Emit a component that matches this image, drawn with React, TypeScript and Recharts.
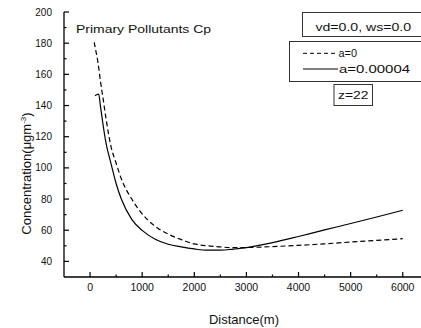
import React from 'react';
import { LineChart, Line, XAxis, YAxis } from 'recharts';

// a=0 (dashed)
const distA = [80, 100, 150, 200, 250, 300, 400, 500, 600, 800, 1000, 1250, 1500, 1750, 2000, 2250, 2500, 2750, 3000, 3500, 4000, 4500, 5000, 5500, 6000];
const concA = [180.6, 177, 168, 155.5, 144.5, 133, 114, 103, 93, 80, 70.5, 62.5, 57.5, 54, 51.2, 50, 49.3, 48.8, 48.9, 49.5, 50.3, 51.3, 52.4, 53.5, 54.6];

// a=0.00004 (solid)
const distB = [95, 165, 200, 250, 300, 400, 500, 600, 800, 1000, 1250, 1500, 1750, 2000, 2250, 2500, 2750, 3000, 3500, 4000, 4500, 5000, 5500, 6000];
const concB = [146.3, 147.3, 139.5, 127.5, 117, 103, 90, 80, 67, 59.9, 54.2, 51, 49.3, 48, 47.2, 47.2, 47.9, 48.8, 52, 56, 60.2, 64.3, 68.5, 72.8];

const xTicks = [0, 500, 1000, 1500, 2000, 2500, 3000, 3500, 4000, 4500, 5000, 5500, 6000];
const yTicks = [40, 50, 60, 70, 80, 90, 100, 110, 120, 130, 140, 150, 160, 170, 180, 190, 200];

const seriesA = distA.map((x, i) => ({ x, y: concA[i] }));
const seriesB = distB.map((x, i) => ({ x, y: concB[i] }));

const FONT = "Arial, 'Liberation Sans', sans-serif";

const BottomTick = (props: any) => {
  const { x, y, payload } = props;
  const v = payload.value;
  const major = v % 1000 === 0;
  return (
    <g>
      <line x1={x} x2={x} y1={y} y2={y - (major ? 5 : 2.5)} stroke="#000" strokeWidth={1.2} />
      {major && (
        <text x={x} y={y + 13.5} textAnchor="middle" fontSize={10.5} fontFamily={FONT} fill="#111">
          {v}
        </text>
      )}
    </g>
  );
};

const TopTick = (props: any) => {
  const { x, y } = props;
  return <line x1={x} x2={x} y1={y} y2={y + 2} stroke="#000" strokeWidth={1} />;
};

const LeftTick = (props: any) => {
  const { x, y, payload } = props;
  const v = payload.value;
  const major = v % 20 === 0;
  return (
    <g>
      <line x1={x} x2={x + (major ? 5 : 2.5)} y1={y} y2={y} stroke="#000" strokeWidth={1.2} />
      {major && (
        <text x={x - 12} y={y} dy="0.35em" textAnchor="end" fontSize={10} fontFamily={FONT} fill="#111">
          {v}
        </text>
      )}
    </g>
  );
};

export default function App() {
  return (
    <div style={{ position: 'absolute', left: 0, top: 0, width: 421, height: 328, background: '#fff' }}>
      <LineChart width={421} height={328} margin={{ top: 12, right: 0, bottom: 0, left: 0 }}>
        <XAxis
          xAxisId="b"
          type="number"
          dataKey="x"
          domain={[-500, 6350]}
          allowDataOverflow
          ticks={xTicks}
          interval={0}
          orientation="bottom"
          height={51}
          tickSize={0}
          tickMargin={0}
          tickLine={false}
          axisLine={{ stroke: '#000', strokeWidth: 1.3 }}
          tick={BottomTick}
        />
        <XAxis
          xAxisId="t"
          type="number"
          dataKey="x"
          domain={[-500, 6350]}
          allowDataOverflow
          ticks={xTicks}
          interval={0}
          orientation="top"
          height={0}
          tickSize={0}
          tickMargin={0}
          tickLine={false}
          axisLine={{ stroke: '#000', strokeWidth: 1.2 }}
          tick={TopTick}
        />
        <YAxis
          type="number"
          domain={[30, 200]}
          allowDataOverflow
          ticks={yTicks}
          interval={0}
          width={64}
          tickSize={0}
          tickMargin={0}
          tickLine={false}
          axisLine={{ stroke: '#000', strokeWidth: 1.3 }}
          tick={LeftTick}
        />
        <Line
          xAxisId="b"
          data={seriesA}
          dataKey="y"
          type="monotone"
          stroke="#000"
          strokeWidth={1.2}
          strokeDasharray="5 3"
          dot={false}
          isAnimationActive={false}
        />
        <Line
          xAxisId="b"
          data={seriesB}
          dataKey="y"
          type="monotone"
          stroke="#000"
          strokeWidth={1.2}
          dot={false}
          isAnimationActive={false}
        />
      </LineChart>
      <svg
        width={421}
        height={328}
        style={{ position: 'absolute', left: 0, top: 0, pointerEvents: 'none' }}
        fontFamily={FONT}
      >
        <text x={76} y={32.5} fontSize={11.5} fill="#111" textLength={135} lengthAdjust="spacingAndGlyphs">
          Primary Pollutants Cp
        </text>
        <rect x={302.5} y={12.5} width={130} height={24} fill="#fff" stroke="#333" strokeWidth={1} />
        <text x={315.5} y={30.7} fontSize={11.5} fill="#111" textLength={95.5} lengthAdjust="spacingAndGlyphs">
          vd=0.0, ws=0.0
        </text>
        <rect x={289.5} y={41.5} width={140} height={40} fill="#fff" stroke="#333" strokeWidth={1} />
        <line x1={303} x2={337} y1={53.3} y2={53.3} stroke="#000" strokeWidth={1} strokeDasharray="4 3" />
        <text x={338.5} y={56.7} fontSize={11.5} fill="#111" textLength={18.5} lengthAdjust="spacingAndGlyphs">
          a=0
        </text>
        <line x1={303} x2={338} y1={69} y2={69} stroke="#000" strokeWidth={1} />
        <text x={339} y={72.7} fontSize={11.5} fill="#111" textLength={71} lengthAdjust="spacingAndGlyphs">
          a=0.00004
        </text>
        <rect x={334} y={84.5} width={38.5} height={21} fill="#fff" stroke="#333" strokeWidth={1} />
        <text x={338} y={99} fontSize={11.5} fill="#111" textLength={30.5} lengthAdjust="spacingAndGlyphs">
          z=22
        </text>
        <text x={244} y={323.5} fontSize={13} fill="#111" textAnchor="middle">
          Distance(m)
        </text>
        <text transform="translate(30.7,173.5) rotate(-90)" fontSize={13} fill="#111" textAnchor="middle">
          Concentration(μgm
          <tspan fontSize={8} dy={-5}>-3</tspan>
          <tspan dy={5}>)</tspan>
        </text>
      </svg>
    </div>
  );
}
